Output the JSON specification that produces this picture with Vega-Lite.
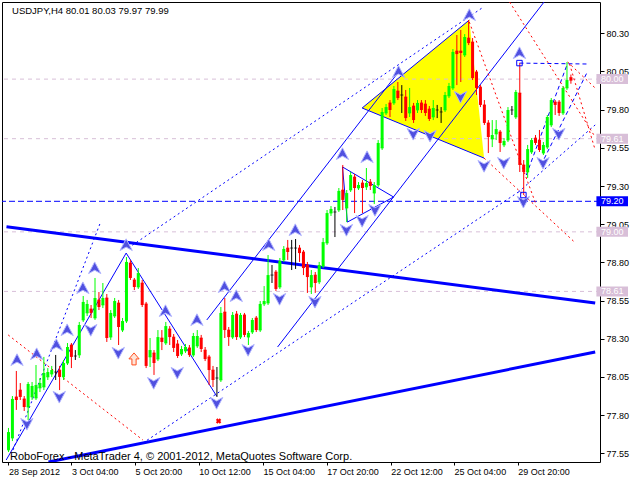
{
 "$schema": "https://vega.github.io/schema/vega-lite/v6.json",
 "width": 598, "height": 460,
 "autosize": {"type": "none"},
 "padding": {"left": 2, "top": 2, "right": 40, "bottom": 18},
 "background": "#ffffff",
 "config": {"view": {"stroke": "#000000", "strokeWidth": 1}, "axis": {"grid": false, "title": null}},
 "datasets": {
  "candles": [
   {"i":0,"o":77.572,"h":77.716,"l":77.558,"c":77.689},
   {"i":1,"o":77.650,"h":77.925,"l":77.630,"c":77.906},
   {"i":2,"o":77.919,"h":78.089,"l":77.834,"c":77.899},
   {"i":3,"o":77.964,"h":78.010,"l":77.899,"c":77.919},
   {"i":4,"o":77.906,"h":77.925,"l":77.827,"c":77.853},
   {"i":5,"o":77.853,"h":78.017,"l":77.768,"c":78.004},
   {"i":6,"o":77.919,"h":78.017,"l":77.899,"c":77.991},
   {"i":7,"o":77.912,"h":78.128,"l":77.899,"c":77.997},
   {"i":8,"o":77.978,"h":78.043,"l":77.951,"c":78.010},
   {"i":9,"o":77.984,"h":78.181,"l":77.964,"c":78.076},
   {"i":10,"o":78.050,"h":78.108,"l":78.030,"c":78.082},
   {"i":11,"o":78.069,"h":78.122,"l":78.050,"c":78.095},
   {"i":12,"o":78.082,"h":78.194,"l":78.030,"c":78.082},
   {"i":13,"o":78.095,"h":78.122,"l":77.964,"c":78.050},
   {"i":14,"o":78.050,"h":78.161,"l":78.030,"c":78.141},
   {"i":15,"o":78.141,"h":78.272,"l":78.128,"c":78.246},
   {"i":16,"o":78.259,"h":78.272,"l":78.108,"c":78.181},
   {"i":17,"o":78.187,"h":78.226,"l":78.161,"c":78.187},
   {"i":18,"o":78.194,"h":78.410,"l":78.174,"c":78.390},
   {"i":19,"o":78.423,"h":78.580,"l":78.410,"c":78.541},
   {"i":20,"o":78.469,"h":78.554,"l":78.449,"c":78.528},
   {"i":21,"o":78.495,"h":78.521,"l":78.436,"c":78.469},
   {"i":22,"o":78.436,"h":78.698,"l":78.423,"c":78.567},
   {"i":23,"o":78.554,"h":78.606,"l":78.488,"c":78.508},
   {"i":24,"o":78.521,"h":78.665,"l":78.501,"c":78.567},
   {"i":25,"o":78.567,"h":78.593,"l":78.279,"c":78.305},
   {"i":26,"o":78.311,"h":78.488,"l":78.292,"c":78.469},
   {"i":27,"o":78.449,"h":78.567,"l":78.436,"c":78.547},
   {"i":28,"o":78.534,"h":78.554,"l":78.259,"c":78.377},
   {"i":29,"o":78.357,"h":78.436,"l":78.344,"c":78.416},
   {"i":30,"o":78.416,"h":78.835,"l":78.403,"c":78.803},
   {"i":31,"o":78.796,"h":78.816,"l":78.685,"c":78.698},
   {"i":32,"o":78.685,"h":78.698,"l":78.619,"c":78.639},
   {"i":33,"o":78.639,"h":78.763,"l":78.626,"c":78.730},
   {"i":34,"o":78.665,"h":78.685,"l":78.508,"c":78.521},
   {"i":35,"o":78.528,"h":78.541,"l":78.108,"c":78.122},
   {"i":36,"o":78.181,"h":78.305,"l":78.115,"c":78.226},
   {"i":37,"o":78.207,"h":78.226,"l":78.063,"c":78.141},
   {"i":38,"o":78.167,"h":78.357,"l":78.154,"c":78.311},
   {"i":39,"o":78.305,"h":78.357,"l":78.226,"c":78.279},
   {"i":40,"o":78.272,"h":78.410,"l":78.259,"c":78.383},
   {"i":41,"o":78.364,"h":78.383,"l":78.259,"c":78.311},
   {"i":42,"o":78.311,"h":78.331,"l":78.213,"c":78.240},
   {"i":43,"o":78.266,"h":78.292,"l":78.174,"c":78.187},
   {"i":44,"o":78.200,"h":78.253,"l":78.187,"c":78.233},
   {"i":45,"o":78.220,"h":78.266,"l":78.207,"c":78.246},
   {"i":46,"o":78.240,"h":78.259,"l":78.181,"c":78.194},
   {"i":47,"o":78.194,"h":78.338,"l":78.181,"c":78.318},
   {"i":48,"o":78.253,"h":78.357,"l":78.240,"c":78.318},
   {"i":49,"o":78.305,"h":78.325,"l":78.213,"c":78.233},
   {"i":50,"o":78.226,"h":78.246,"l":78.154,"c":78.167},
   {"i":51,"o":78.181,"h":78.194,"l":77.997,"c":78.095},
   {"i":52,"o":78.095,"h":78.122,"l":77.984,"c":78.030},
   {"i":53,"o":78.043,"h":78.115,"l":77.919,"c":78.043},
   {"i":54,"o":78.030,"h":78.508,"l":78.017,"c":78.469},
   {"i":55,"o":78.475,"h":78.567,"l":78.305,"c":78.357},
   {"i":56,"o":78.357,"h":78.377,"l":78.253,"c":78.311},
   {"i":57,"o":78.311,"h":78.475,"l":78.298,"c":78.456},
   {"i":58,"o":78.462,"h":78.482,"l":78.292,"c":78.311},
   {"i":59,"o":78.311,"h":78.469,"l":78.298,"c":78.456},
   {"i":60,"o":78.456,"h":78.469,"l":78.311,"c":78.325},
   {"i":61,"o":78.311,"h":78.351,"l":78.259,"c":78.338},
   {"i":62,"o":78.344,"h":78.436,"l":78.331,"c":78.423},
   {"i":63,"o":78.436,"h":78.449,"l":78.344,"c":78.357},
   {"i":64,"o":78.357,"h":78.547,"l":78.344,"c":78.528},
   {"i":65,"o":78.528,"h":78.645,"l":78.514,"c":78.547},
   {"i":66,"o":78.534,"h":78.848,"l":78.521,"c":78.717},
   {"i":67,"o":78.717,"h":78.783,"l":78.665,"c":78.717},
   {"i":68,"o":78.737,"h":78.750,"l":78.613,"c":78.626},
   {"i":69,"o":78.639,"h":78.829,"l":78.626,"c":78.809},
   {"i":70,"o":78.816,"h":78.907,"l":78.803,"c":78.888},
   {"i":71,"o":78.894,"h":78.947,"l":78.816,"c":78.868},
   {"i":72,"o":78.894,"h":78.947,"l":78.750,"c":78.894},
   {"i":73,"o":78.894,"h":78.953,"l":78.757,"c":78.894},
   {"i":74,"o":78.894,"h":78.914,"l":78.803,"c":78.861},
   {"i":75,"o":78.868,"h":78.881,"l":78.717,"c":78.763},
   {"i":76,"o":78.783,"h":78.803,"l":78.600,"c":78.704},
   {"i":77,"o":78.639,"h":78.750,"l":78.593,"c":78.717},
   {"i":78,"o":78.717,"h":78.737,"l":78.600,"c":78.665},
   {"i":79,"o":78.672,"h":78.803,"l":78.658,"c":78.783},
   {"i":80,"o":78.776,"h":78.960,"l":78.763,"c":78.933},
   {"i":81,"o":78.927,"h":79.143,"l":78.914,"c":79.123},
   {"i":82,"o":79.123,"h":79.169,"l":79.104,"c":79.150},
   {"i":83,"o":79.130,"h":79.163,"l":78.966,"c":79.130},
   {"i":84,"o":79.143,"h":79.287,"l":79.130,"c":79.268},
   {"i":85,"o":79.274,"h":79.438,"l":79.143,"c":79.209},
   {"i":86,"o":79.156,"h":79.274,"l":79.064,"c":79.254},
   {"i":87,"o":79.274,"h":79.392,"l":79.261,"c":79.372},
   {"i":88,"o":79.359,"h":79.379,"l":79.123,"c":79.287},
   {"i":89,"o":79.287,"h":79.326,"l":79.274,"c":79.307},
   {"i":90,"o":79.320,"h":79.339,"l":79.123,"c":79.287},
   {"i":91,"o":79.294,"h":79.418,"l":79.274,"c":79.320},
   {"i":92,"o":79.326,"h":79.346,"l":79.274,"c":79.300},
   {"i":93,"o":79.254,"h":79.326,"l":79.182,"c":79.307},
   {"i":94,"o":79.307,"h":79.601,"l":79.294,"c":79.582},
   {"i":95,"o":79.549,"h":79.811,"l":79.536,"c":79.785},
   {"i":96,"o":79.778,"h":79.837,"l":79.765,"c":79.817},
   {"i":97,"o":79.844,"h":79.863,"l":79.752,"c":79.798},
   {"i":98,"o":79.844,"h":79.955,"l":79.831,"c":79.935},
   {"i":99,"o":79.922,"h":79.981,"l":79.863,"c":79.876},
   {"i":100,"o":79.896,"h":79.961,"l":79.778,"c":79.896},
   {"i":101,"o":79.883,"h":79.929,"l":79.726,"c":79.745},
   {"i":102,"o":79.778,"h":79.942,"l":79.752,"c":79.817},
   {"i":103,"o":79.824,"h":79.844,"l":79.713,"c":79.732},
   {"i":104,"o":79.798,"h":79.863,"l":79.778,"c":79.844},
   {"i":105,"o":79.844,"h":79.863,"l":79.778,"c":79.798},
   {"i":106,"o":79.837,"h":79.863,"l":79.759,"c":79.778},
   {"i":107,"o":79.804,"h":79.824,"l":79.726,"c":79.739},
   {"i":108,"o":79.752,"h":79.863,"l":79.732,"c":79.811},
   {"i":109,"o":79.798,"h":79.831,"l":79.745,"c":79.798},
   {"i":110,"o":79.785,"h":79.817,"l":79.713,"c":79.785},
   {"i":111,"o":79.798,"h":79.916,"l":79.785,"c":79.896},
   {"i":112,"o":79.890,"h":79.975,"l":79.876,"c":79.955},
   {"i":113,"o":79.942,"h":80.197,"l":79.929,"c":80.178},
   {"i":114,"o":80.184,"h":80.289,"l":79.961,"c":80.164},
   {"i":115,"o":80.184,"h":80.322,"l":79.981,"c":80.171},
   {"i":116,"o":80.158,"h":80.295,"l":80.145,"c":80.276},
   {"i":117,"o":80.269,"h":80.387,"l":80.223,"c":80.236},
   {"i":118,"o":80.243,"h":80.269,"l":79.994,"c":80.007},
   {"i":119,"o":80.047,"h":80.060,"l":79.896,"c":79.942},
   {"i":120,"o":79.948,"h":79.961,"l":79.817,"c":79.831},
   {"i":121,"o":79.831,"h":79.863,"l":79.700,"c":79.713},
   {"i":122,"o":79.713,"h":79.732,"l":79.516,"c":79.621},
   {"i":123,"o":79.608,"h":79.732,"l":79.555,"c":79.634},
   {"i":124,"o":79.641,"h":79.732,"l":79.601,"c":79.673},
   {"i":125,"o":79.654,"h":79.667,"l":79.523,"c":79.582},
   {"i":126,"o":79.569,"h":79.614,"l":79.555,"c":79.595},
   {"i":127,"o":79.601,"h":79.817,"l":79.588,"c":79.798},
   {"i":128,"o":79.798,"h":79.824,"l":79.765,"c":79.798},
   {"i":129,"o":79.752,"h":79.929,"l":79.739,"c":79.916},
   {"i":130,"o":79.909,"h":80.105,"l":79.392,"c":79.438},
   {"i":131,"o":79.438,"h":79.470,"l":79.241,"c":79.392},
   {"i":132,"o":79.392,"h":79.569,"l":79.353,"c":79.542},
   {"i":133,"o":79.523,"h":79.614,"l":79.510,"c":79.601},
   {"i":134,"o":79.614,"h":79.634,"l":79.569,"c":79.582},
   {"i":135,"o":79.601,"h":79.667,"l":79.523,"c":79.536},
   {"i":136,"o":79.516,"h":79.588,"l":79.503,"c":79.569},
   {"i":137,"o":79.555,"h":79.765,"l":79.542,"c":79.752},
   {"i":138,"o":79.700,"h":79.876,"l":79.686,"c":79.863},
   {"i":139,"o":79.850,"h":79.863,"l":79.765,"c":79.831},
   {"i":140,"o":79.850,"h":79.863,"l":79.759,"c":79.778},
   {"i":141,"o":79.778,"h":79.955,"l":79.765,"c":79.942},
   {"i":142,"o":79.942,"h":80.112,"l":79.929,"c":79.994},
   {"i":143,"o":80.01,"h":80.03,"l":79.97,"c":79.99}
  ],
  "lines": [
   {"id":"T1","k":"thick","i":-0.505,"p":79.034},{"id":"T1","k":"thick","i":149.17,"p":78.534},
   {"id":"T2","k":"thick","i":10.17,"p":77.493},{"id":"T2","k":"thick","i":149.17,"p":78.213},
   {"id":"S1","k":"solid","i":-0.58,"p":77.506},{"id":"S1","k":"solid","i":29.92,"p":78.861},
   {"id":"S2","k":"solid","i":29.92,"p":78.861},{"id":"S2","k":"solid","i":52.92,"p":77.925},
   {"id":"S3","k":"solid","i":50.42,"p":78.423},{"id":"S3","k":"solid","i":99.17,"p":80.047},
   {"id":"S4","k":"solid","i":68.42,"p":78.246},{"id":"S4","k":"solid","i":136.17,"p":80.505},
   {"id":"S5a","k":"solid","i":84.92,"p":79.425},{"id":"S5a","k":"solid","i":97.92,"p":79.228},
   {"id":"S5b","k":"solid","i":86.17,"p":79.064},{"id":"S5b","k":"solid","i":97.92,"p":79.228},
   {"id":"S5c","k":"solid","i":84.92,"p":79.425},{"id":"S5c","k":"solid","i":86.17,"p":79.064},
   {"id":"Y1","k":"solid","i":89.92,"p":79.811},{"id":"Y1","k":"solid","i":117.17,"p":80.387},
   {"id":"Y2","k":"solid","i":89.92,"p":79.811},{"id":"Y2","k":"solid","i":120.92,"p":79.483},
   {"id":"D1","k":"dot","i":1.17,"p":77.572},{"id":"D1","k":"dot","i":23.42,"p":79.064},
   {"id":"D2","k":"dot","i":30.42,"p":78.894},{"id":"D2","k":"dot","i":120.42,"p":80.466},
   {"id":"D3","k":"dot","i":34.17,"p":77.617},{"id":"D3","k":"dot","i":130.42,"p":79.274},
   {"id":"D4","k":"dot","i":129.67,"p":79.261},{"id":"D4","k":"dot","i":149.17,"p":79.700},
   {"id":"B1","k":"dash","i":131.67,"p":79.372},{"id":"B1","k":"dash","i":142.17,"p":80.105},
   {"id":"B2","k":"dash","i":135.42,"p":79.438},{"id":"B2","k":"dash","i":147.17,"p":80.047},
   {"id":"B3","k":"dash","i":129.92,"p":80.105},{"id":"B3","k":"dash","i":147.17,"p":80.099},
   {"id":"R1","k":"red","i":-0.08,"p":78.325},{"id":"R1","k":"red","i":34.17,"p":77.637},
   {"id":"R2","k":"red","i":117.17,"p":80.374},{"id":"R2","k":"red","i":134.17,"p":79.176},
   {"id":"R3","k":"red","i":120.92,"p":79.483},{"id":"R3","k":"red","i":144.17,"p":78.927},
   {"id":"R4","k":"red","i":127.42,"p":80.505},{"id":"R4","k":"red","i":149.17,"p":79.621},
   {"id":"R5","k":"red","i":142.17,"p":80.112},{"id":"R5","k":"red","i":149.17,"p":79.942},
   {"id":"R6","k":"red","i":142.67,"p":80.099},{"id":"R6","k":"red","i":149.17,"p":79.536}
  ],
  "tri": [
   {"i":89.92,"p":79.811,"p2":79.811},
   {"i":117.17,"p":80.387,"p2":79.523},
   {"i":120.92,"p":79.483,"p2":79.483}
  ],
  "levels": [
   {"p":80.00,"t":"80.00","k":"pink"},
   {"p":79.61,"t":"79.61","k":"pink"},
   {"p":79.20,"t":"79.20","k":"blue"},
   {"p":79.00,"t":"79.00","k":"pink"},
   {"p":78.61,"t":"78.61","k":"pink"}
  ],
  "arrows": [
   {"i":2.17,"p":78.161,"d":"up"},{"i":7.17,"p":78.200,"d":"up"},{"i":12.17,"p":78.259,"d":"up"},
   {"i":14.92,"p":78.357,"d":"up"},{"i":18.92,"p":78.632,"d":"up"},{"i":21.92,"p":78.763,"d":"up"},
   {"i":29.92,"p":78.914,"d":"up"},{"i":39.92,"p":78.482,"d":"up"},{"i":47.92,"p":78.423,"d":"up"},
   {"i":54.92,"p":78.639,"d":"up"},{"i":57.92,"p":78.580,"d":"up"},{"i":66.17,"p":78.914,"d":"up"},
   {"i":72.92,"p":79.012,"d":"up"},{"i":84.92,"p":79.510,"d":"up"},{"i":91.17,"p":79.490,"d":"up"},
   {"i":99.17,"p":80.047,"d":"up"},{"i":117.17,"p":80.420,"d":"up"},{"i":129.92,"p":80.171,"d":"up"},
   {"i":4.67,"p":77.742,"d":"down"},{"i":12.92,"p":77.919,"d":"down"},{"i":20.92,"p":78.357,"d":"down"},
   {"i":27.92,"p":78.207,"d":"down"},{"i":36.92,"p":78.010,"d":"down"},{"i":42.92,"p":78.076,"d":"down"},
   {"i":52.92,"p":77.879,"d":"down"},{"i":60.92,"p":78.226,"d":"down"},{"i":68.92,"p":78.560,"d":"down"},
   {"i":77.92,"p":78.541,"d":"down"},{"i":85.92,"p":79.012,"d":"down"},{"i":89.92,"p":79.071,"d":"down"},
   {"i":93.17,"p":79.143,"d":"down"},{"i":102.92,"p":79.641,"d":"down"},{"i":107.17,"p":79.628,"d":"down"},
   {"i":114.92,"p":79.883,"d":"down"},{"i":120.92,"p":79.431,"d":"down"},{"i":125.92,"p":79.451,"d":"down"},
   {"i":130.92,"p":79.196,"d":"down"},{"i":135.92,"p":79.451,"d":"down"},{"i":139.92,"p":79.641,"d":"down"}
  ],
  "texts": [
   {"i":0.9,"p":80.446,"label":"USDJPY,H4  80.01 80.03 79.97 79.99","s":"h"},
   {"i":0.4,"p":77.526,"label":"RoboForex - MetaTrader 4, © 2001-2012, MetaQuotes Software Corp.","s":"b"}
  ]
 },
 "layer": [
  {"data":{"name":"tri"},"mark":{"type":"area","color":"#ffff00","opacity":1},
   "encoding":{
    "x":{"field":"i","type":"quantitative","scale":{"domain":[-0.375,149.125],"nice":false,"zero":false},
     "axis":{"values":[0,16,32.2,48.4,64.7,80.9,97.2,113.3,129.5],
      "labelExpr":"['28 Sep 2012','3 Oct 04:00','5 Oct 20:00','10 Oct 12:00','15 Oct 04:00','17 Oct 20:00','22 Oct 12:00','25 Oct 04:00','29 Oct 20:00'][round(datum.value/16.19)]",
      "orient":"bottom","labelAlign":"left","labelBaseline":"top","labelPadding":2,"tickSize":3,"tickColor":"#000000","domain":false,"grid":false,"title":null,
      "labelFont":"Liberation Sans","labelFontSize":9,"labelColor":"#000000","labelFlush":false,"labelOverlap":false,"labelBound":false}},
    "y":{"field":"p","type":"quantitative","scale":{"domain":[77.493,80.505],"nice":false,"zero":false},
     "axis":{"orient":"right","values":[77.55,77.8,78.05,78.3,78.55,78.8,79.05,79.3,79.55,79.8,80.05,80.3],"format":".2f",
      "tickSize":4,"labelPadding":2,"tickColor":"#000000","domain":false,"grid":false,"title":null,
      "labelFont":"Liberation Sans","labelFontSize":9,"labelColor":"#000000","labelFlush":false,"labelOverlap":false}},
    "y2":{"field":"p2"}}},
  {"data":{"name":"levels"},"transform":[{"filter":"datum.k == 'pink'"}],
   "mark":{"type":"rule","color":"#d8bfd8","strokeWidth":1,"strokeDash":[4,4]},
   "encoding":{"y":{"field":"p","type":"quantitative","scale":{"domain":[77.493,80.505],"nice":false,"zero":false},"axis":{"title":null,"orient":"right"}}}},
  {"data":{"name":"levels"},"transform":[{"filter":"datum.k == 'blue'"}],
   "mark":{"type":"rule","color":"#0000ff","strokeWidth":1,"strokeDash":[6,3]},
   "encoding":{"y":{"field":"p","type":"quantitative","scale":{"domain":[77.493,80.505],"nice":false,"zero":false},"axis":{"title":null,"orient":"right"}}}},
  {"data":{"name":"lines"},
   "layer":[
    {"transform":[{"filter":"datum.k == 'solid'"}],"mark":{"type":"line","color":"#0000ff","strokeWidth":1,"clip":true}},
    {"transform":[{"filter":"datum.k == 'dot'"}],"mark":{"type":"line","color":"#0000ff","strokeWidth":1,"strokeDash":[2,3],"clip":true}},
    {"transform":[{"filter":"datum.k == 'dash'"}],"mark":{"type":"line","color":"#0000ff","strokeWidth":1,"strokeDash":[4,3],"clip":true}},
    {"transform":[{"filter":"datum.k == 'red'"}],"mark":{"type":"line","color":"#ff0000","strokeWidth":1,"strokeDash":[2,3],"clip":true}},
    {"transform":[{"filter":"datum.k == 'thick'"}],"mark":{"type":"line","color":"#0000ff","strokeWidth":3,"clip":true}}
   ],
   "encoding":{
    "x":{"field":"i","type":"quantitative","scale":{"domain":[-0.375,149.125],"nice":false,"zero":false},"axis":{"title":null,"orient":"bottom"}},
    "y":{"field":"p","type":"quantitative","scale":{"domain":[77.493,80.505],"nice":false,"zero":false},"axis":{"title":null,"orient":"right"}},
    "detail":{"field":"id"}}},
  {"data":{"name":"candles"},
   "encoding":{
    "x":{"field":"i","type":"quantitative","scale":{"domain":[-0.375,149.125],"nice":false,"zero":false},"axis":{"title":null,"orient":"bottom"}},
    "color":{"condition":[{"test":"datum.c > datum.o","value":"#00ff00"},{"test":"datum.c < datum.o","value":"#ff0000"}],"value":"#000000"}},
   "layer":[
    {"mark":{"type":"rule","strokeWidth":1},
     "encoding":{"y":{"field":"l","type":"quantitative","scale":{"domain":[77.493,80.505],"nice":false,"zero":false},"axis":{"title":null,"orient":"right"}},"y2":{"field":"h"}}},
    {"mark":{"type":"tick","orient":"horizontal","size":3,"thickness":1},
     "encoding":{"y":{"field":"o","type":"quantitative","scale":{"domain":[77.493,80.505],"nice":false,"zero":false},"axis":{"title":null,"orient":"right"}}}},
    {"mark":{"type":"bar","width":3},
     "encoding":{"y":{"field":"o","type":"quantitative","scale":{"domain":[77.493,80.505],"nice":false,"zero":false},"axis":{"title":null,"orient":"right"}},"y2":{"field":"c"}}}
   ]},
  {"data":{"name":"arrows"},"mark":{"type":"point","filled":true,"fill":"#5050e0","stroke":"#b0b4ff","strokeWidth":1,"size":150,"opacity":1},
   "encoding":{
    "x":{"field":"i","type":"quantitative","scale":{"domain":[-0.375,149.125],"nice":false,"zero":false},"axis":{"title":null,"orient":"bottom"}},
    "y":{"field":"p","type":"quantitative","scale":{"domain":[77.493,80.505],"nice":false,"zero":false},"axis":{"title":null,"orient":"right"}},
    "shape":{"field":"d","type":"nominal","scale":{"domain":["up","down"],"range":["M0,-1L1,0.9L0,0.35L-1,0.9Z","M0,1L1,-0.9L0,-0.35L-1,-0.9Z"]},"legend":null}}},
  {"data":{"values":[{"i":31.92,"p":78.168,"m":"arrow"},{"i":53.42,"p":77.761,"m":"x"},{"i":129.92,"p":80.105,"m":"sq"},{"i":130.92,"p":79.241,"m":"sq"}]},
   "encoding":{
    "x":{"field":"i","type":"quantitative","scale":{"domain":[-0.375,149.125],"nice":false,"zero":false},"axis":{"title":null,"orient":"bottom"}},
    "y":{"field":"p","type":"quantitative","scale":{"domain":[77.493,80.505],"nice":false,"zero":false},"axis":{"title":null,"orient":"right"}}},
   "layer":[
    {"transform":[{"filter":"datum.m == 'arrow'"}],
     "mark":{"type":"point","filled":true,"fill":"#ffe4d8","stroke":"#ff5020","strokeWidth":1,"size":144,"opacity":1,"shape":"M0,-1L0.85,0L0.35,0L0.35,1L-0.35,1L-0.35,0L-0.85,0Z"}},
    {"transform":[{"filter":"datum.m == 'x'"}],
     "mark":{"type":"point","filled":true,"color":"#ff0000","size":30,"shape":"cross","angle":45,"opacity":1}},
    {"transform":[{"filter":"datum.m == 'sq'"}],
     "mark":{"type":"point","filled":false,"stroke":"#0000ff","strokeWidth":1,"size":30,"shape":"square","opacity":1}}
   ]},
  {"data":{"name":"texts"},
   "mark":{"type":"text","align":"left","baseline":"middle","font":"Liberation Sans","color":"#000000"},
   "encoding":{
    "x":{"field":"i","type":"quantitative","scale":{"domain":[-0.375,149.125],"nice":false,"zero":false},"axis":{"title":null,"orient":"bottom"}},
    "y":{"field":"p","type":"quantitative","scale":{"domain":[77.493,80.505],"nice":false,"zero":false},"axis":{"title":null,"orient":"right"}},
    "text":{"field":"label"},"size":{"condition":{"test":"datum.s == 'b'","value":11},"value":9.5}}},
  {"data":{"name":"levels"},
   "encoding":{
    "x":{"datum":153.5,"type":"quantitative","scale":{"domain":[-0.375,149.125],"nice":false,"zero":false},"axis":{"title":null,"orient":"bottom"}},
    "y":{"field":"p","type":"quantitative","scale":{"domain":[77.493,80.505],"nice":false,"zero":false},"axis":{"title":null,"orient":"right"}}},
   "layer":[
    {"mark":{"type":"point","filled":true,"size":400,"opacity":1,"strokeWidth":0,"shape":"M-1.58,-0.5H1.58V0.5H-1.58Z"},
     "encoding":{"color":{"condition":{"test":"datum.k == 'blue'","value":"#0000ff"},"value":"#d8bfd8"}}},
    {"mark":{"type":"text","align":"center","baseline":"middle","font":"Liberation Sans","fontSize":9,"color":"#ffffff"},
     "encoding":{"text":{"field":"t"}}}
   ]}
 ]
}
